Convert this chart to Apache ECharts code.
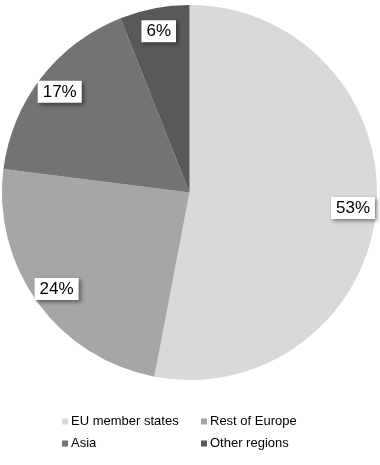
<!DOCTYPE html>
<html><head><meta charset="utf-8">
<script src="https://cdn.jsdelivr.net/npm/echarts@6/dist/echarts.min.js"></script>
<style>html,body{margin:0;padding:0;background:#fff}#c{width:380px;height:465px}</style>
</head><body><div id="c"></div>
<script>
var categories = ['EU member states', 'Rest of Europe', 'Asia', 'Other regions'];
var values = [53, 24, 17, 6];
var colors = ['#d9d9d9', '#a6a6a6', '#737373', '#595959'];

var data = categories.map(function (n, i) { return { name: n, value: values[i], itemStyle: { color: colors[i] } }; });
var chart = echarts.init(document.getElementById('c'), null, { renderer: 'canvas' });
var legendCommon = {
  orient: 'vertical', itemWidth: 6, itemHeight: 6, itemGap: 9, icon: 'rect',
  textStyle: { fontFamily: 'Liberation Sans, Arial', fontSize: 13, color: '#000', padding: [0, 0, 0, -2] },
  selectedMode: false, top: 410
};
chart.setOption({
  animation: false,
  legend: [
    Object.assign({}, legendCommon, { left: 57, data: [categories[0], categories[2]] }),
    Object.assign({}, legendCommon, { left: 196, data: [categories[1], categories[3]] })
  ],
  series: [
    {
      type: 'pie', center: [189.5, 192.5], radius: [0, 187.5], startAngle: 90, clockwise: true,
      label: { show: false }, labelLine: { show: false }, data: data, silent: true
    },
    {
      type: 'pie', center: [189.5, 192.5], radius: [135, 187.5], startAngle: 90, clockwise: true,
      silent: true, itemStyle: { color: 'rgba(0,0,0,0)' },
      label: {
        show: true, position: 'inside', formatter: '{c}%',
        fontFamily: 'Liberation Sans, Arial', fontSize: 17, color: '#000',
        backgroundColor: '#fff', padding: [3, 5, 2, 5],
        shadowColor: 'rgba(0,0,0,0.45)', shadowBlur: 4, shadowOffsetX: 2, shadowOffsetY: 2
      },
      labelLine: { show: false },
      data: categories.map(function (n, i) { return { name: n, value: values[i], itemStyle: { color: 'rgba(0,0,0,0)' } }; })
    }
  ]
});
</script></body></html>
